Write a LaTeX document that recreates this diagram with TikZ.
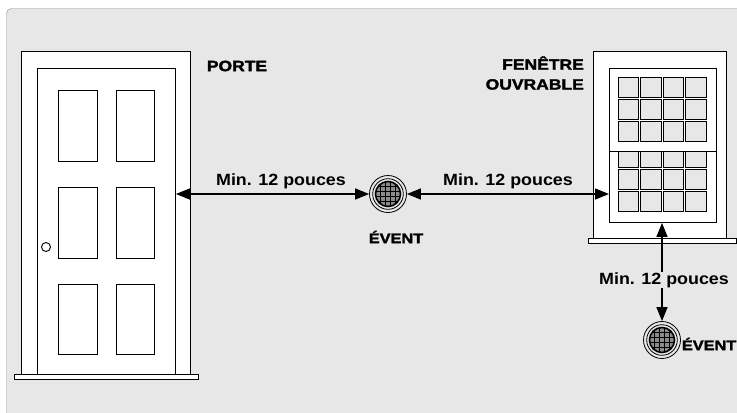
\documentclass[tikz,border=0pt]{standalone}
\usepackage{fontspec}
\setmainfont{Liberation Sans}
\newfontfamily\heavyfont[FakeStretch=1.17,FakeBold=2]{Liberation Sans Bold}
\newfontfamily\mediumfont[FakeStretch=1.1]{Liberation Sans Bold}
\usetikzlibrary{arrows.meta}

\definecolor{panel}{HTML}{E6E7E6}
\definecolor{rim}{HTML}{8C8C8C}
\definecolor{grate}{HTML}{8A8A8A}

\tikzset{
  outline/.style={draw=black, line width=0.9bp},
  dimarrow/.style={line width=1.4bp, {Triangle[length=14bp,width=11bp]}-{Triangle[length=14bp,width=11bp]}},
  dimlabel/.style={font=\mediumfont\fontsize{16.3}{18}\selectfont, inner sep=0.5bp},
  tag/.style={font=\heavyfont\fontsize{15}{20}\selectfont, inner sep=0pt},
  venttag/.style={tag, font=\heavyfont\fontsize{14}{16}\selectfont},
}

% round floor vent: double rim and a gridded grate
\newcommand{\ventnode}[2]{%
  \node[circle, outline, line width=0.8bp, minimum size=37bp, inner sep=0pt] (#1) at (#2) {};
  \begin{scope}[shift={(#1.center)}]
    \draw[line width=0.8bp] (0,0) circle[radius=15.3];
    \begin{scope}
      \clip (0,0) circle[radius=12.5];
      \fill[grate] (0,0) circle[radius=12.5];
      \foreach \d in {-7.5,-2.5,2.5,7.5} {
        \draw[line width=0.8bp] (\d,-13) -- (\d,13);
        \draw[line width=0.8bp] (-13,\d) -- (13,\d);
      }
    \end{scope}
    \draw[line width=1.6bp] (0,0) circle[radius=12.5];
  \end{scope}
}

\begin{document}
\begin{tikzpicture}[x=1bp,y=-1bp]
\useasboundingbox (0,0) rectangle (737,412);
\fill[white] (0,0) rectangle (737,412);
\draw[rim, fill=panel, rounded corners=5bp] (6.5,8.5) rectangle (760,430);

% door
\draw[outline, fill=white] (21,51) rectangle (190,375);
\node[outline, fill=white, anchor=north west, minimum width=138bp, minimum height=307bp] (door) at (37,68) {};
\draw[outline, fill=white] (14,374) rectangle (198,379);
\draw[outline] (58,90) rectangle (97,161);
\draw[outline] (116,90) rectangle (154,161);
\draw[outline] (58,187) rectangle (97,258);
\draw[outline] (116,187) rectangle (154,258);
\draw[outline] (58,284) rectangle (97,354);
\draw[outline] (116,284) rectangle (154,354);
\draw[outline, fill=white] (46,247) circle[radius=4.5];

% window
\draw[outline, fill=white] (593,51) rectangle (726,238);
\draw[outline, fill=white] (588,238) rectangle (736,243);
\node[outline, fill=white, anchor=north west, minimum width=107bp, minimum height=154bp] (sash) at (609,68) {};
\foreach \c in {0,...,3} {
  \foreach \r in {0,1,2} {
    \draw[outline, line width=0.7bp, fill=panel] (618+22.5*\c,77+22*\r) rectangle ++(20.5,20);
    \draw[outline, line width=0.7bp, fill=panel] (618+22.5*\c,147+22*\r) rectangle ++(20.5,20);
  }
}
\fill[white] (610,141.6) rectangle (715,151);
\draw[outline] (609,151) -- (716,151);

% vents
\ventnode{vent1}{388,194}
\ventnode{vent2}{662,340}

% clearances
\draw[dimarrow] (vent1.west) -- (door.east |- vent1.west);
\draw[dimarrow] (vent1.east) -- (sash.west |- vent1.east);
\draw[dimarrow] (vent2.north) -- (vent2.north |- sash.south);
\node[dimlabel] (dimL) at (281,181) {Min. 12 pouces};
\node[dimlabel] (dimR) at (508,181) {Min. 12 pouces};
\node[dimlabel, fill=panel] (dimV) at (664,280) {Min. 12 pouces};

% labels
\node[tag] (porte) at (237,66) {PORTE};
\node[tag, anchor=east, align=right] (fenetre) at (584,73) {FENÊTRE\\OUVRABLE};
\node[venttag] (event1) at (396,237) {ÉVENT};
\node[venttag, anchor=east] (event2) at (736.5,344) {ÉVENT};
\end{tikzpicture}
\end{document}
